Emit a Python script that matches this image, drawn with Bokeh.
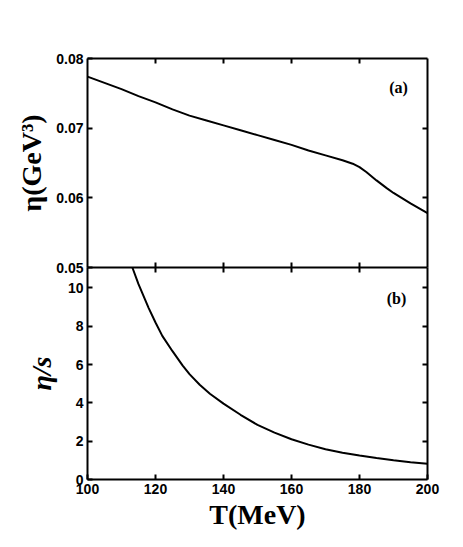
from bokeh.plotting import figure
from bokeh.layouts import column
from bokeh.models import Range1d, LinearAxis, FixedTicker, Label, CustomLabelingPolicy
from bokeh.embed import file_html
from bokeh.resources import INLINE

# ---- data: panel (a) shear viscosity eta (GeV^3) vs T (MeV)
T_a = [100, 105, 110, 115, 120, 125, 130, 135, 140, 145, 150, 155, 160,
       165, 170, 175, 178, 180, 182, 185, 188, 190, 195, 200]
eta_a = [0.0774, 0.0765, 0.0756, 0.0746, 0.0737, 0.0727, 0.0718, 0.0711,
         0.0704, 0.0697, 0.0690, 0.0683, 0.0676, 0.0668, 0.0661, 0.0654,
         0.0649, 0.0644, 0.0637, 0.0625, 0.0614, 0.0607, 0.0592, 0.0578]

# ---- data: panel (b) eta/s vs T (MeV)
T_b = [113.2, 115, 118, 120, 122, 125, 128, 130, 133, 136, 140, 145, 150,
       155, 160, 165, 170, 175, 180, 185, 190, 195, 200]
ratio_b = [11.07, 10.2, 8.95, 8.2, 7.5, 6.7, 5.95, 5.5, 4.95, 4.48, 3.96,
           3.38, 2.85, 2.45, 2.1, 1.82, 1.58, 1.4, 1.25, 1.12, 1.0, 0.9, 0.82]

# ---- ticks and titles
x_ticks = [100, 120, 140, 160, 180, 200]
x_ticks_inner = [120, 140, 160, 180]
eta_ticks = [0.05, 0.06, 0.07, 0.08]
eta_ticks_right = [0.06, 0.07]
ratio_ticks = [0, 2, 4, 6, 8, 10]
ratio_ticks_right = [2, 4, 6, 8, 10]
title_a = "η(GeV³)"
title_b = "η/s"
title_x = "T(MeV)"

TICK_FONT = "Liberation Sans"
TITLE_FONT = "Liberation Serif"

LEFT, FRAME_W, RIGHT = 87, 340, 24
W = LEFT + FRAME_W + RIGHT

NO_LABELS = ("try { for (let k = 0; k < indices.size; k++) { indices.unset(k) } } "
             "catch (e) {} return indices")


def style_axis(ax, ticks, labels=True, tick_out=0):
    ax.ticker = FixedTicker(ticks=ticks)
    ax.axis_line_width = 2
    ax.axis_line_color = "black"
    ax.major_tick_line_width = 2
    ax.major_tick_line_color = "black"
    ax.major_tick_in = 5
    ax.major_tick_out = tick_out
    ax.minor_tick_line_color = None
    if labels:
        ax.major_label_text_font = TICK_FONT
        ax.major_label_text_font_style = "bold"
        ax.major_label_text_font_size = "14px"
        ax.major_label_text_color = "black"
        ax.major_label_standoff = 4
    else:
        ax.major_label_policy = CustomLabelingPolicy(code=NO_LABELS)
        ax.major_label_text_font_size = "0px"
        ax.major_label_standoff = 0


def set_title(ax, text, style, standoff):
    ax.axis_label = text
    ax.axis_label_text_font = TITLE_FONT
    ax.axis_label_text_font_style = style
    ax.axis_label_text_font_size = "28px"
    ax.axis_label_text_color = "black"
    ax.axis_label_standoff = standoff


def base(fig):
    fig.grid.grid_line_color = None
    fig.background_fill_color = None
    fig.border_fill_color = None
    fig.outline_line_color = None


# ---------- top panel (a)
p1 = figure(width=W, height=58 + 209 + 10,
            x_range=Range1d(100, 200), y_range=Range1d(0.05, 0.08),
            output_backend="svg", toolbar_location=None,
            x_axis_location=None, y_axis_location=None,
            min_border_left=LEFT, min_border_right=RIGHT,
            min_border_top=58, min_border_bottom=10)
base(p1)
p1.margin = (0, 0, -10, 0)

ax = LinearAxis(); style_axis(ax, eta_ticks); set_title(ax, title_a, "bold", 6)
p1.add_layout(ax, "left")
ax = LinearAxis(); style_axis(ax, eta_ticks_right, labels=False); p1.add_layout(ax, "right")
ax = LinearAxis(); style_axis(ax, x_ticks_inner, labels=False); p1.add_layout(ax, "above")
ax = LinearAxis(); style_axis(ax, x_ticks_inner, labels=False, tick_out=5); p1.add_layout(ax, "below")

p1.line(T_a, eta_a, line_color="black", line_width=2)

p1.add_layout(Label(x=191.5, y=0.0759, text="(a)", text_align="center",
                    text_baseline="middle", text_font=TITLE_FONT,
                    text_font_style="bold", text_font_size="16px",
                    text_color="black"))

# ---------- bottom panel (b)
p2 = figure(width=W, height=212 + 60,
            x_range=Range1d(100, 200), y_range=Range1d(0, 11.07),
            output_backend="svg", toolbar_location=None,
            x_axis_location=None, y_axis_location=None,
            min_border_left=LEFT, min_border_right=RIGHT,
            min_border_top=0, min_border_bottom=60)
base(p2)

ax = LinearAxis(); style_axis(ax, ratio_ticks); set_title(ax, title_b, "bold italic", 8)
p2.add_layout(ax, "left")
ax = LinearAxis(); style_axis(ax, ratio_ticks_right, labels=False); p2.add_layout(ax, "right")
ax = LinearAxis(); style_axis(ax, x_ticks); set_title(ax, title_x, "bold", 2)
p2.add_layout(ax, "below")

p2.line(T_b, ratio_b, line_color="black", line_width=2)

p2.add_layout(Label(x=190.9, y=9.47, text="(b)", text_align="center",
                    text_baseline="middle", text_font=TITLE_FONT,
                    text_font_style="bold", text_font_size="16px",
                    text_color="black"))

layout = column(p1, p2, spacing=0)
open("out.html", "w").write(file_html(layout, INLINE))
